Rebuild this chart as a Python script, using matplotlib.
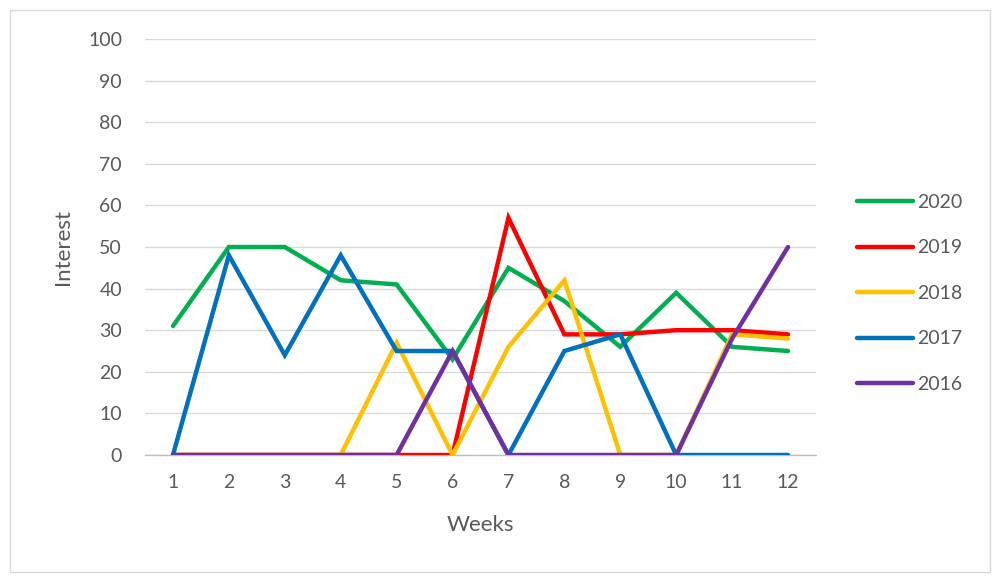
import matplotlib
matplotlib.use("Agg")
import matplotlib.pyplot as plt
from matplotlib.patches import Rectangle

weeks = list(range(1, 13))
years = ["2020", "2019", "2018", "2017", "2016"]

interest_2020 = [31, 50, 50, 42, 41, 23, 45, 37, 26, 39, 26, 25]
interest_2019 = [0, 0, 0, 0, 0, 0, 57, 29, 29, 30, 30, 29]
interest_2018 = [0, 0, 0, 0, 27, 0, 26, 42, 0, 0, 29, 28]
interest_2017 = [0, 48, 24, 48, 25, 25, 0, 25, 29, 0, 0, 0]
interest_2016 = [0, 0, 0, 0, 0, 25, 0, 0, 0, 0, 28, 50]

series = [interest_2020, interest_2019, interest_2018, interest_2017, interest_2016]
colors = ["#00B050", "#FF0000", "#FFC000", "#0070C0", "#7030A0"]

text_color = "#595959"
plt.rcParams["font.family"] = ["Lato", "DejaVu Sans"]

fig = plt.figure(figsize=(9.94, 5.81), dpi=100)
ax = fig.add_axes([145 / 994, 126 / 581, 671 / 994, 416 / 581])

for vals, col, yr in zip(series, colors, years):
    ax.plot(weeks, vals, color=col, linewidth=3.2, label=yr,
            solid_capstyle="round", solid_joinstyle="miter")

ax.set_xlim(0.5, 12.5)
ax.set_ylim(0, 100)
ax.set_yticks(range(0, 101, 10))
ax.set_xticks(weeks)
ax.grid(True, axis="y", color="#d9d9d9", linewidth=1)
ax.set_axisbelow(True)

for name in ["top", "right", "left"]:
    ax.spines[name].set_visible(False)
ax.spines["bottom"].set_color("#bfbfbf")
ax.spines["bottom"].set_linewidth(1)
ax.spines["bottom"].set_zorder(0.5)
ax.tick_params(axis="both", length=0, labelsize=14, colors=text_color)
ax.tick_params(axis="y", pad=16.5)
ax.tick_params(axis="x", pad=14)

ax.set_xlabel("Weeks", fontsize=16, color=text_color, labelpad=17)
ax.set_ylabel("Interest", fontsize=16, color=text_color, labelpad=11)

fig.legend(loc="center left", bbox_to_anchor=(839 / 994, 0.495), frameon=False,
           fontsize=14, labelcolor=text_color, handlelength=2.9,
           handletextpad=0.2, labelspacing=1.47)

# outer chart border
fig.patches.append(Rectangle((10 / 994, 9 / 581), 980 / 994, 562 / 581,
                             transform=fig.transFigure, fill=False,
                             edgecolor="#d9d9d9", linewidth=1))

fig.savefig("out.png", dpi=100, facecolor="white")
